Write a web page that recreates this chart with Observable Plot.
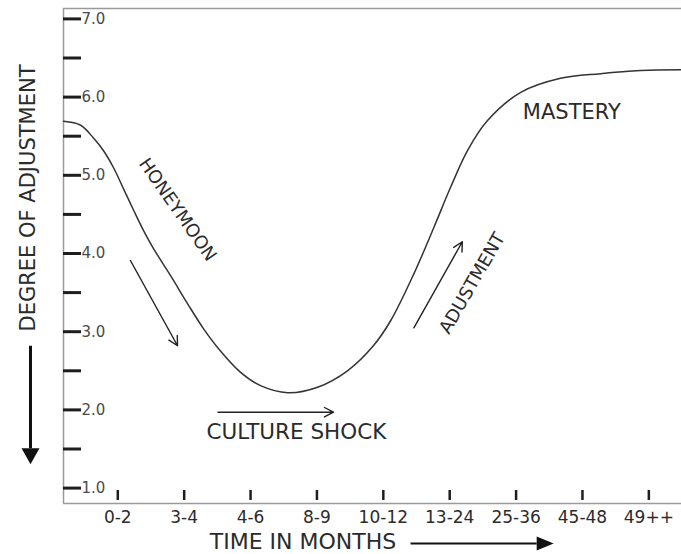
<!DOCTYPE html>
<html>
<head>
<meta charset="utf-8">
<script src="https://cdn.jsdelivr.net/npm/d3@7"></script>
<script src="https://cdn.jsdelivr.net/npm/@observablehq/plot@0.6"></script>
<style>
  html, body { margin: 0; padding: 0; background: #fff; }
  #chart svg { display: block; }
</style>
</head>
<body>
<div id="chart"></div>
<script>
// Time categories (x axis, one per tick, index 0..8)
const timeLabels = ["0-2", "3-4", "4-6", "8-9", "10-12", "13-24", "25-36", "45-48", "49++"];
// Degree-of-adjustment ticks
const yTickValues = [1, 1.5, 2, 2.5, 3, 3.5, 4, 4.5, 5, 5.5, 6, 6.5, 7];
const yLabelValues = [1, 2, 3, 4, 5, 6, 7];

// Adjustment curve (time position in category units, level)
const curveTime  = [-0.818, -0.56, -0.37, -0.22, -0.06, 0.09, 0.24, 0.39, 0.54, 0.80, 1.05, 1.29, 1.55, 1.85, 2.15, 2.56, 3.01, 3.46, 3.85, 4.11, 4.46, 4.76, 5.01, 5.27, 5.57, 6.07, 6.67, 7.27, 7.88, 8.492];
const curveLevel = [5.69, 5.64, 5.48, 5.32, 5.09, 4.82, 4.55, 4.29, 4.06, 3.71, 3.36, 3.04, 2.75, 2.48, 2.31, 2.22, 2.29, 2.50, 2.82, 3.14, 3.74, 4.33, 4.84, 5.32, 5.70, 6.06, 6.24, 6.30, 6.34, 6.35];

// Phase labels
const phaseLabels = ["HONEYMOON", "CULTURE SHOCK", "ADUSTMENT", "MASTERY"];
const phaseTime   = [0.90, 2.69, 5.34, 6.84];
const phaseLevel  = [4.56, 1.71, 3.62, 5.80];
const phaseAngle  = [55, 0, -60, 0];

// Phase arrows (start -> end)
const arrowTimeFrom  = [0.19, 1.51, 4.46];
const arrowLevelFrom = [3.91, 1.97, 3.05];
const arrowTimeTo    = [0.90, 3.25, 5.19];
const arrowLevelTo   = [2.82, 1.97, 4.15];

// Axis-title arrows (outside the frame): [y-axis arrow, x-axis arrow]
const axisArrowTimeFrom  = [-1.315, 4.41];
const axisArrowLevelFrom = [2.82, 0.292];
const axisArrowTimeTo    = [-1.315, 6.31];
const axisArrowLevelTo   = [1.51, 0.292];
const axisArrowAngle     = [180, 90];

const xDomain = [-0.818, 8.492];
const yDomain = [0.803, 7.133];

const font = "DejaVu Sans, sans-serif";
const ink = "#2b2b2b";
const idx = timeLabels.map((d, i) => i);
const W = 681, H = 554, ML = 63, MT = 8, MB = 51;
const frameW = W - ML, frameH = H - MT - MB;

const chart = Plot.plot({
  width: W,
  height: H,
  marginLeft: ML,
  marginRight: 0,
  marginTop: MT,
  marginBottom: MB,
  style: { background: "#fff", fontFamily: font },
  x: { domain: xDomain, axis: null },
  y: { domain: yDomain, axis: null },
  marks: [
    // frame (left, top, bottom)
    Plot.ruleX([xDomain[0]], { stroke: "#9a9a9a", strokeWidth: 1.5 }),
    Plot.ruleY([yDomain[0], yDomain[1]], { stroke: "#9a9a9a", strokeWidth: 1.5 }),
    // y ticks (inside the frame)
    Plot.tickY(yTickValues, { y: d => d, insetRight: frameW - 18, stroke: "#1e1e1e", strokeWidth: 3 }),
    Plot.text(yLabelValues, { y: d => d, text: d => d.toFixed(1), frameAnchor: "left", dx: 18, textAnchor: "start", fontSize: 15, fill: "#4a4a4a" }),
    // x ticks (inside the frame, above the bottom edge)
    Plot.tickX(idx, { x: d => d, insetTop: frameH - 13, insetBottom: 3, stroke: "#1e1e1e", strokeWidth: 2.5 }),
    Plot.text(idx, { x: d => d, text: i => timeLabels[i], frameAnchor: "bottom", dy: 14, lineAnchor: "middle", fontSize: 17, fill: ink }),
    // the curve
    Plot.line(curveTime, { x: curveTime, y: curveLevel, curve: "catmull-rom", stroke: "#333", strokeWidth: 1.5 }),
    // phase labels
    Plot.text(phaseLabels, { x: phaseTime, y: phaseLevel, text: d => d, rotate: phaseAngle, fontSize: [18, 21.5, 18, 21], fill: ink, lineAnchor: "middle" }),
    // phase arrows
    Plot.arrow(arrowTimeFrom, { x1: arrowTimeFrom, y1: arrowLevelFrom, x2: arrowTimeTo, y2: arrowLevelTo, headLength: 11, headAngle: 55, stroke: "#222", strokeWidth: 1.4 }),
    // axis titles
    Plot.text(["DEGREE OF ADJUSTMENT"], { frameAnchor: "left", textAnchor: "middle", dx: -35, dy: -58, rotate: -90, fontSize: 21, fill: ink, lineAnchor: "middle" }),
    Plot.text(["TIME IN MONTHS"], { frameAnchor: "bottom", textAnchor: "middle", dx: -69.5, dy: 38, fontSize: 22, fill: ink, lineAnchor: "middle" }),
    // axis-title arrows
    Plot.link([0], { x1: [axisArrowTimeFrom[0]], y1: [axisArrowLevelFrom[0]], x2: [axisArrowTimeTo[0]], y2: [axisArrowLevelTo[0]], stroke: "#111", strokeWidth: 3 }),
    Plot.link([1], { x1: [axisArrowTimeFrom[1]], y1: [axisArrowLevelFrom[1]], x2: [axisArrowTimeTo[1]], y2: [axisArrowLevelTo[1]], stroke: "#111", strokeWidth: 2 }),
    Plot.vector([0], { x: [axisArrowTimeTo[0]], y: [axisArrowLevelTo[0]], rotate: axisArrowAngle[0], length: 16, r: 9, shape: "spike", anchor: "start", fill: "#111", stroke: "none" }),
    Plot.vector([1], { x: [axisArrowTimeTo[1]], y: [axisArrowLevelTo[1]], rotate: axisArrowAngle[1], length: 17, r: 7, shape: "spike", anchor: "start", fill: "#111", stroke: "none" })
  ]
});
document.getElementById("chart").appendChild(chart);
</script>
</body>
</html>
